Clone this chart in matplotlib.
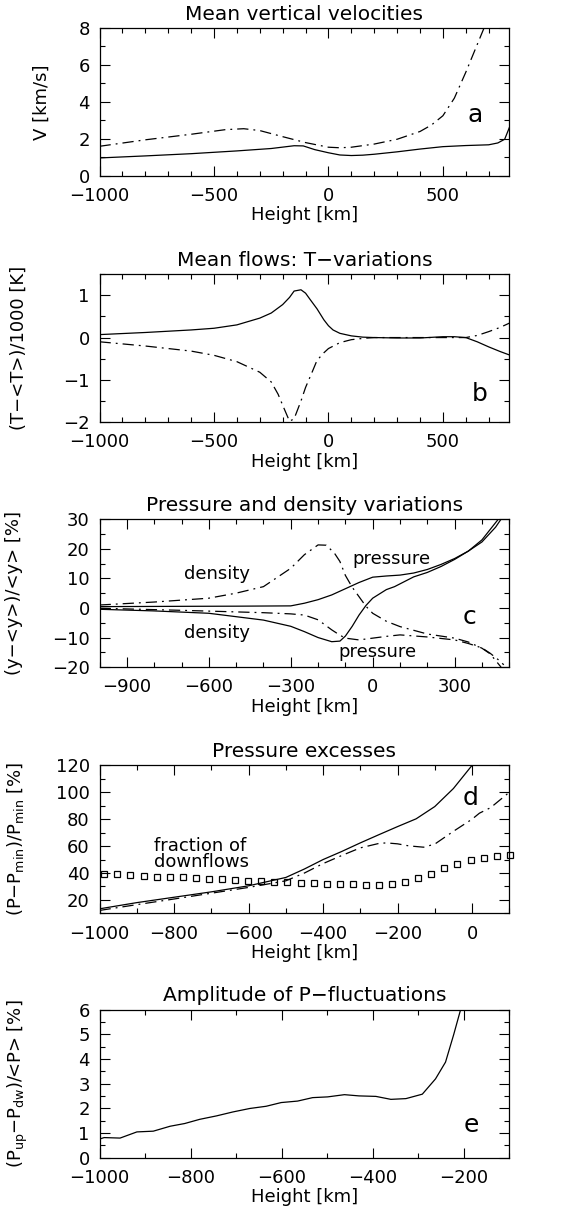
import numpy as np
import matplotlib
matplotlib.use("Agg")
import matplotlib.pyplot as plt
from matplotlib.ticker import MultipleLocator

# panel a: mean vertical velocities
a_x_solid = [-1000, -800, -600, -400, -250, -150, -110, -60, 0, 50, 100, 150, 200, 300, 400, 500, 600, 700, 740, 770, 790]
a_y_solid = [0.97, 1.08, 1.2, 1.35, 1.48, 1.63, 1.62, 1.42, 1.25, 1.13, 1.1, 1.12, 1.17, 1.3, 1.45, 1.58, 1.64, 1.68, 1.78, 1.98, 2.6]
a_x_dash = [-1000, -800, -600, -450, -370, -300, -200, -100, 0, 50, 100, 200, 300, 400, 450, 500, 550, 600, 650, 680]
a_y_dash = [1.6, 1.95, 2.25, 2.5, 2.55, 2.45, 2.12, 1.8, 1.55, 1.52, 1.55, 1.72, 1.98, 2.4, 2.75, 3.25, 4.2, 5.6, 7.1, 8.0]

# panel b: T-variations
b_x_solid = [-1000, -800, -600, -500, -400, -300, -250, -200, -170, -150, -120, -100, -80, -50, -20, 0, 20, 50, 100, 150, 200, 300, 400, 500, 550, 600, 650, 700, 750, 790]
b_y_solid = [0.07, 0.12, 0.18, 0.22, 0.3, 0.46, 0.58, 0.78, 0.95, 1.1, 1.13, 1.05, 0.9, 0.68, 0.42, 0.28, 0.18, 0.1, 0.04, 0.01, 0.0, -0.01, -0.01, 0.02, 0.02, 0.0, -0.1, -0.22, -0.33, -0.41]
b_x_dash = [-1000, -800, -600, -500, -400, -300, -250, -220, -200, -170, -150, -140, -120, -100, -70, -50, -20, 0, 50, 100, 150, 200, 300, 400, 500, 600, 650, 700, 750, 790]
b_y_dash = [-0.1, -0.2, -0.32, -0.42, -0.57, -0.82, -1.05, -1.34, -1.6, -1.98, -1.92, -1.78, -1.5, -1.18, -0.8, -0.54, -0.36, -0.26, -0.12, -0.05, -0.02, 0.0, 0.0, 0.0, 0.0, 0.0, 0.05, 0.14, 0.24, 0.34]

# panel c: pressure and density variations
c_x_solid1 = [-1000, -700, -500, -300, -250, -200, -150, -100, -50, 0, 50, 100, 150, 200, 250, 300, 350, 400, 450, 470]
c_y_solid1 = [0.45, 0.55, 0.6, 0.7, 1.6, 2.8, 4.4, 6.5, 8.6, 10.4, 10.8, 11.1, 11.8, 13, 14.7, 16.7, 19.2, 22.3, 27.3, 30]
c_x_solid2 = [-1000, -800, -600, -400, -300, -250, -200, -150, -120, -100, -75, -50, -25, 0, 50, 80, 150, 200, 250, 300, 350, 400, 460]
c_y_solid2 = [-0.45, -1.0, -1.8, -4.1, -6.2, -8, -10, -11.4, -11.2, -9.5, -6.2, -2.4, 0.8, 3.3, 6.2, 7.2, 10.5, 12, 14, 16.4, 19.2, 23, 30]
c_x_dash1 = [-1000, -800, -600, -500, -400, -300, -250, -200, -170, -140, -120, -100, -75, -50, -25, 0, 50, 100, 200, 300, 350, 400, 430, 470]
c_y_dash1 = [1.0, 2.0, 3.3, 5, 7.2, 13.4, 18, 21.3, 21.2, 18.5, 15.7, 11, 7, 3.8, 0.6, -1.8, -4.5, -6.3, -8.8, -10.2, -11.5, -13.6, -15.5, -20]
c_x_dash2 = [-1000, -700, -400, -300, -250, -200, -150, -120, -100, -50, 0, 50, 100, 200, 300, 350, 400, 430, 460, 480]
c_y_dash2 = [-0.1, -0.8, -1.6, -2.0, -2.4, -4.0, -7.4, -9.2, -10.2, -10.8, -10.2, -9.6, -9.1, -9.8, -10.8, -12, -13.5, -15.3, -17.5, -19.2]

# panel d: pressure excesses + fraction of downflows
d_x_solid = [-1000, -900, -800, -700, -600, -500, -450, -400, -350, -300, -250, -200, -150, -100, -50, 0]
d_y_solid = [13.4, 18, 22, 26, 30.5, 36.7, 43, 50, 56, 62.4, 68.5, 74.5, 80.3, 89.4, 102.8, 120]
d_x_dash = [-1000, -900, -800, -700, -600, -500, -450, -400, -350, -300, -250, -230, -200, -170, -130, -100, -50, 0, 20, 50, 100]
d_y_dash = [12.2, 16.5, 20.7, 25, 29.3, 34.2, 40, 47, 53, 58.7, 62, 62.4, 61.7, 60.2, 59.2, 61.5, 71, 80, 84.5, 88.6, 100]
d_x_frac = [-987, -952, -917, -882, -847, -811, -776, -741, -706, -671, -636, -601, -566, -531, -496, -460,
            -425, -390, -355, -320, -285, -250, -215, -180, -145, -110, -74, -39, -4, 31, 66, 101]
d_y_frac = [39.6, 39.1, 38.4, 37.9, 37.4, 37.2, 36.7, 36.2, 35.7, 35.2, 34.7, 34.2, 34.0, 33.7, 33.2, 32.7,
            32.3, 32.0, 31.5, 31.5, 31.3, 31.3, 32.0, 33.5, 36.4, 39.6, 44.0, 47.0, 49.9, 51.1, 52.6, 53.3]

# panel e: amplitude of P-fluctuations
e_x = [-1000, -990, -955, -918, -882, -845, -813, -780, -743, -707, -670, -634, -601, -565, -532, -499,
       -462, -430, -393, -360, -327, -291, -262, -240, -222, -207]
e_y = [0.76, 0.82, 0.8, 1.05, 1.08, 1.28, 1.39, 1.56, 1.7, 1.86, 2.0, 2.09, 2.24, 2.3, 2.44, 2.47,
       2.56, 2.51, 2.49, 2.37, 2.4, 2.58, 3.2, 3.88, 5.0, 6.0]

plt.rcParams['font.family'] = 'DejaVu Sans'
fig = plt.figure(figsize=(5.69, 12.13), dpi=100)

L, W, H = 0.175, 0.72, 0.122
bottoms = [0.855, 0.652, 0.450, 0.247, 0.0455]
DASH = (0, (9, 4, 1.5, 4))
lw = 0.9
tfs, lfs, ffs = 14.5, 13, 13
pfs = 18  # panel letters


def style(ax, xmaj, xmin, ymaj, ymin):
    ax.xaxis.set_major_locator(MultipleLocator(xmaj))
    ax.xaxis.set_minor_locator(MultipleLocator(xmin))
    ax.yaxis.set_major_locator(MultipleLocator(ymaj))
    ax.yaxis.set_minor_locator(MultipleLocator(ymin))
    ax.tick_params(which='both', direction='in', top=True, right=True, labelsize=ffs, width=0.8)
    ax.tick_params(which='major', length=7)
    ax.tick_params(which='minor', length=3.5)
    ax.tick_params(axis='x', which='both', pad=8)
    ax.tick_params(axis='y', which='both', pad=7)
    ax.set_xlabel('Height [km]', fontsize=lfs, labelpad=1)
    for s in ax.spines.values():
        s.set_linewidth(0.9)


axs = [fig.add_axes([L, b, W, H]) for b in bottoms]

ax = axs[0]
ax.plot(a_x_solid, a_y_solid, 'k-', lw=lw)
ax.plot(a_x_dash, a_y_dash, color='k', ls=DASH, lw=lw)
ax.set_xlim(-1000, 790)
ax.set_ylim(0, 8)
style(ax, 500, 100, 2, 1)
ax.set_title('Mean vertical velocities', fontsize=tfs, pad=6)
ax.set_ylabel('V [km/s]', fontsize=lfs)
ax.yaxis.set_label_coords(-0.12, 0.5)
ax.text(0.916, 0.41, 'a', transform=ax.transAxes, fontsize=pfs, ha='center', va='center')

ax = axs[1]
ax.plot(b_x_solid, b_y_solid, 'k-', lw=lw)
ax.plot(b_x_dash, b_y_dash, color='k', ls=DASH, lw=lw)
ax.set_xlim(-1000, 790)
ax.set_ylim(-2, 1.5)
style(ax, 500, 100, 1, 0.5)
ax.set_title('Mean flows: T\u2212variations', fontsize=tfs, pad=6)
ax.set_ylabel('(T\u2212<T>)/1000 [K]', fontsize=lfs)
ax.yaxis.set_label_coords(-0.175, 0.5)
ax.text(0.928, 0.19, 'b', transform=ax.transAxes, fontsize=pfs, ha='center', va='center')

ax = axs[2]
ax.plot(c_x_solid1, c_y_solid1, 'k-', lw=lw)
ax.plot(c_x_solid2, c_y_solid2, 'k-', lw=lw)
ax.plot(c_x_dash1, c_y_dash1, color='k', ls=DASH, lw=lw)
ax.plot(c_x_dash2, c_y_dash2, color='k', ls=DASH, lw=lw)
ax.set_xlim(-1000, 500)
ax.set_ylim(-20, 30)
style(ax, 300, 100, 10, 5)
ax.set_title('Pressure and density variations', fontsize=tfs, pad=6)
ax.set_ylabel('(y\u2212<y>)/<y> [%]', fontsize=lfs)
ax.yaxis.set_label_coords(-0.187, 0.5)
ax.text(-570, 11.4, 'density', fontsize=lfs, ha='center', va='center')
ax.text(-570, -8.6, 'density', fontsize=lfs, ha='center', va='center')
ax.text(67, 16.4, 'pressure', fontsize=lfs, ha='center', va='center')
ax.text(18, -14.8, 'pressure', fontsize=lfs, ha='center', va='center')
ax.text(0.904, 0.34, 'c', transform=ax.transAxes, fontsize=pfs, ha='center', va='center')

ax = axs[3]
ax.plot(d_x_solid, d_y_solid, 'k-', lw=lw)
ax.plot(d_x_dash, d_y_dash, color='k', ls=DASH, lw=lw)
ax.plot(d_x_frac, d_y_frac, ls='none', marker='s', ms=5, mfc='none', mec='k', mew=0.9, clip_on=False)
ax.set_xlim(-1000, 100)
ax.set_ylim(10, 120)
style(ax, 200, 100, 20, 10)
ax.set_title('Pressure excesses', fontsize=tfs, pad=6)
ax.set_ylabel('(P\u2212P$_{\\rm min}$)/P$_{\\rm min}$ [%]', fontsize=lfs)
ax.yaxis.set_label_coords(-0.18, 0.5)
ax.text(-855, 54, 'fraction of\ndownflows', fontsize=lfs, ha='left', va='center', linespacing=0.85)
ax.text(0.906, 0.78, 'd', transform=ax.transAxes, fontsize=pfs, ha='center', va='center')

ax = axs[4]
ax.plot(e_x, e_y, 'k-', lw=lw)
ax.set_xlim(-1000, -100)
ax.set_ylim(0, 6)
style(ax, 200, 100, 1, 0.5)
ax.set_title('Amplitude of P\u2212fluctuations', fontsize=tfs, pad=6)
ax.set_ylabel('(P$_{\\rm up}$\u2212P$_{\\rm dw}$)/<P> [%]', fontsize=lfs)
ax.yaxis.set_label_coords(-0.17, 0.5)
ax.text(0.908, 0.22, 'e', transform=ax.transAxes, fontsize=pfs, ha='center', va='center')

fig.savefig('out.png', dpi=100)
